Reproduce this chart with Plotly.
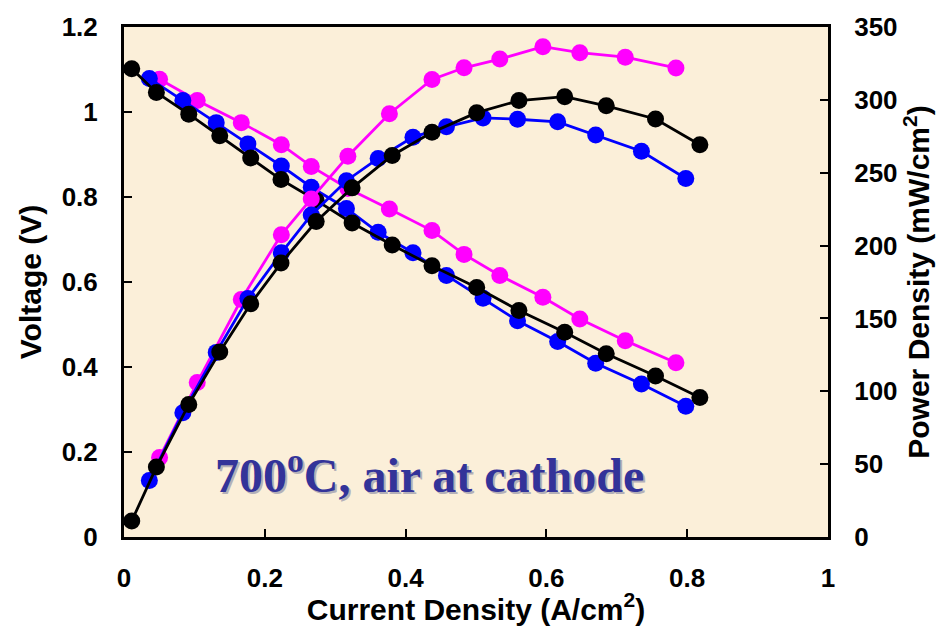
import plotly.graph_objects as go

# Current density (A/cm^2), cell voltage (V) and power density (mW/cm^2)
i_black = [0.011, 0.046, 0.092, 0.136, 0.180, 0.223, 0.273, 0.324, 0.381, 0.4375,
           0.501, 0.561, 0.626, 0.685, 0.755, 0.818]
v_black = [1.102, 1.046, 0.995, 0.944, 0.892, 0.841, 0.792, 0.739, 0.687, 0.638,
           0.587, 0.533, 0.482, 0.431, 0.379, 0.328]
p_black = [11, 48, 91, 127, 160, 188, 216.5, 239.6, 261.8, 277.7,
           291.2, 299.5, 302.2, 295.9, 286.9, 269.2]

i_blue = [0.036, 0.0836, 0.131, 0.176, 0.2235, 0.266, 0.316, 0.361, 0.4105, 0.458,
          0.510, 0.559, 0.616, 0.670, 0.735, 0.798]
v_blue = [1.079, 1.027, 0.975, 0.925, 0.873, 0.823, 0.773, 0.717, 0.669, 0.6155,
          0.5615, 0.509, 0.460, 0.409, 0.360, 0.3076]
p_blue = [38.8, 85.3, 126.7, 163.7, 195, 221, 244.5, 259.8, 274.4, 281.5,
          287.6, 286.7, 284.9, 275.9, 264.7, 246]

i_mag = [0.0505, 0.104, 0.1666, 0.2235, 0.266, 0.318, 0.377, 0.4375, 0.483, 0.5338,
         0.595, 0.6475, 0.712, 0.784]
v_mag = [1.077, 1.027, 0.975, 0.923, 0.872, 0.820, 0.772, 0.721, 0.665, 0.6155,
         0.564, 0.513, 0.462, 0.410]
p_mag = [54.5, 106, 163, 207.5, 232, 261.3, 290.5, 314, 322, 328,
         336.5, 332.4, 329.3, 321.9]

MAG, BLUE, BLACK = "#FF00FF", "#0000FF", "#000000"
MSIZE, LW = 17, 2.8

fig = go.Figure()


def add(x, y, color, axis):
    fig.add_trace(go.Scatter(
        x=x, y=y, mode="lines+markers", yaxis=axis,
        line=dict(color=color, width=LW),
        marker=dict(color=color, size=MSIZE),
        showlegend=False, hoverinfo="skip"))


# voltage curves (left axis)
add(i_mag, v_mag, MAG, "y")
add(i_blue, v_blue, BLUE, "y")
add(i_black, v_black, BLACK, "y")
# power-density curves (right axis)
add(i_mag, p_mag, MAG, "y2")
add(i_blue, p_blue, BLUE, "y2")
add(i_black, p_black, BLACK, "y2")

tick_font = dict(family="Liberation Sans, Arial", size=26, color="black", weight="bold")
title_font = dict(family="Liberation Sans, Arial", size=30, color="black", weight="bold")

axis_common = dict(showgrid=False, zeroline=False, showline=True, linecolor="black",
                   linewidth=3, ticks="inside", ticklen=8, tickwidth=2, tickcolor="black",
                   tickfont=tick_font)

fig.update_layout(
    width=943, height=626,
    margin=dict(l=124, r=115, t=20, b=86),
    paper_bgcolor="white",
    plot_bgcolor="#FBEFD9",
    xaxis=dict(range=[0, 1], dtick=0.2, mirror=True, ticklabelstandoff=16,
               title=dict(text="Current Density (A/cm<sup>2</sup>)", font=title_font, standoff=0),
               **axis_common),
    yaxis=dict(range=[0, 1.2], dtick=0.2, ticklabelstandoff=18,
               title=dict(text="Voltage (V)", font=title_font, standoff=12),
               **axis_common),
    yaxis2=dict(range=[0, 350], dtick=50, overlaying="y", side="right", ticklabelstandoff=18,
                title=dict(text="Power Density (mW/cm<sup>2</sup>)", font=title_font, standoff=8),
                **axis_common),
)

label = "700<sup>o</sup>C, air at cathode"
serif = dict(family="Liberation Serif, Times New Roman", size=48, weight="bold")
# soft drop shadow, then the label itself
fig.add_annotation(x=0.434, y=0.152, xref="x", yref="y", text=label, showarrow=False,
                   xshift=2, yshift=-2, font=dict(color="#B4B0B8", **serif))
fig.add_annotation(x=0.434, y=0.152, xref="x", yref="y", text=label, showarrow=False,
                   font=dict(color="#333399", **serif))

fig.write_html("out.html")
